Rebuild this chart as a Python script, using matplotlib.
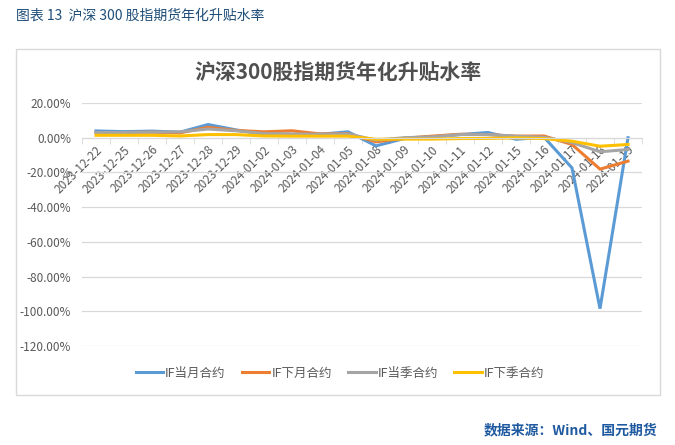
import matplotlib
matplotlib.use("Agg")
import matplotlib.pyplot as plt
from matplotlib.patches import Rectangle
from matplotlib.ticker import FuncFormatter, FixedLocator

plt.rcParams['font.family'] = ['Noto Sans CJK SC', 'DejaVu Sans']

dates = ['2023-12-22', '2023-12-25', '2023-12-26', '2023-12-27', '2023-12-28',
         '2023-12-29', '2024-01-02', '2024-01-03', '2024-01-04', '2024-01-05',
         '2024-01-08', '2024-01-09', '2024-01-10', '2024-01-11', '2024-01-12',
         '2024-01-15', '2024-01-16', '2024-01-17', '2024-01-18', '2024-01-19']

# annualised basis, in %
if_cur_month = [3.9, 3.5, 3.8, 3.2, 7.6, 4.5, 2.0, 1.8, 2.0, 3.4,
                -4.7, -0.5, 0.6, 1.8, 3.0, -0.9, 0.3, -17.4, -98.5, 0.0]
if_next_month = [3.0, 3.0, 3.2, 2.8, 6.0, 4.2, 3.4, 4.0, 2.2, 2.4,
                 -2.4, -0.3, 0.9, 2.0, 1.8, 0.9, 1.0, -3.9, -18.1, -13.5]
if_cur_quarter = [3.0, 3.0, 3.2, 3.4, 5.0, 4.0, 2.4, 2.2, 2.0, 2.2,
                  -1.4, 0.0, 0.5, 1.8, 1.8, 0.9, 0.3, -2.8, -8.1, -6.8]
if_next_quarter = [1.4, 1.4, 1.4, 1.0, 1.8, 1.8, 1.0, 0.9, 0.9, 0.9,
                   -0.9, -0.8, -0.8, -0.5, -0.4, -0.1, -0.5, -2.0, -4.9, -3.9]

series = [
    ('IF当月合约', if_cur_month, '#5B9BD5'),
    ('IF下月合约', if_next_month, '#ED7D31'),
    ('IF当季合约', if_cur_quarter, '#A5A5A5'),
    ('IF下季合约', if_next_quarter, '#FFC000'),
]

W, H = 675, 445
fig = plt.figure(figsize=(W / 100, H / 100), dpi=100)

# header and frame
fig.text(16 / W, 1 - 16 / H, '图表 13  沪深 300 股指期货年化升贴水率', fontsize=10,
         color='#1F4E79', ha='left', va='center')
fig.patches.append(Rectangle((16 / W, 1 - 395 / H), (660 - 16) / W, (395 - 49) / H,
                             transform=fig.transFigure, fill=False,
                             edgecolor='#D9D9D9', linewidth=1))
fig.text(338 / W, 1 - 73 / H, '沪深300股指期货年化升贴水率', fontsize=15,
         fontweight='bold', color='#505050', ha='center', va='center')

ax = fig.add_axes([82 / W, 1 - 346 / H, (642 - 82) / W, (346 - 103) / H])
x = list(range(len(dates)))
for name, vals, col in series:
    ax.plot(x, vals, color=col, linewidth=2.2, label=name, solid_joinstyle='miter')

ax.set_ylim(-120, 20)
ax.set_xlim(-0.5, len(dates) - 0.5)
ax.set_yticks(range(-120, 21, 20))
ax.yaxis.set_major_formatter(FuncFormatter(lambda v, p: f'{v:.2f}%'))
ax.grid(axis='y', color='#D9D9D9', linewidth=0.9)
ax.set_axisbelow(True)
for s in ['top', 'right', 'left']:
    ax.spines[s].set_visible(False)
ax.spines['bottom'].set_position(('data', 0))
ax.spines['bottom'].set_color('#D9D9D9')
ax.tick_params(axis='y', length=0, labelsize=8.5, labelcolor='#595959', pad=8)

ax.set_xticks(x)
ax.set_xticklabels(dates, rotation=45, ha='right', rotation_mode='anchor',
                   fontsize=8.5, color='#595959')
ax.tick_params(axis='x', which='major', length=0, pad=4)
ax.xaxis.set_minor_locator(FixedLocator([i - 0.5 for i in range(len(dates) + 1)]))
ax.tick_params(axis='x', which='minor', length=4, color='#D9D9D9', direction='out')

fig.legend(loc='center', bbox_to_anchor=(340 / W, 1 - 373 / H), ncol=4,
           frameon=False, fontsize=9, handlelength=2.2, columnspacing=1.3,
           handletextpad=0.15, labelcolor='#595959')

fig.text(657 / W, 1 - 430 / H, '数据来源：Wind、国元期货', fontsize=10,
         fontweight='bold', color='#1F5AA0', ha='right', va='center')

fig.savefig('out.png', dpi=100)
